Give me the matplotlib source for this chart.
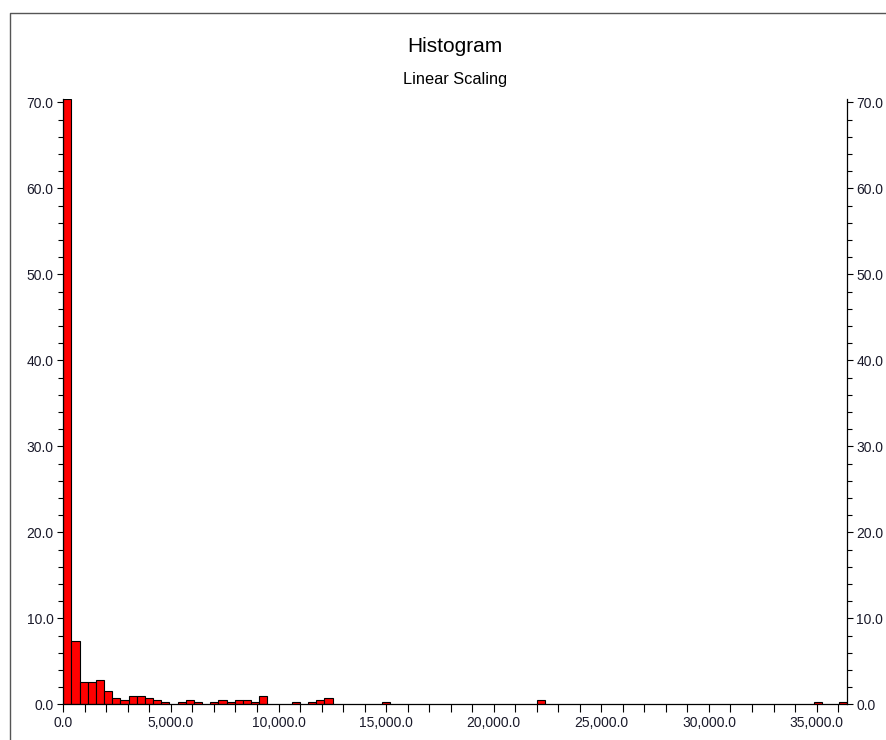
import matplotlib
matplotlib.use("Agg")
import matplotlib.pyplot as plt
from matplotlib.ticker import MultipleLocator, FuncFormatter
from matplotlib.lines import Line2D

# ---- data (percent of values per bin) ----
x_max = 36400.0
num_bins = 96
bin_index = [0, 1, 2, 3, 4, 5, 6, 7, 8, 9, 10, 11, 12, 14, 15, 16, 18, 19, 20,
             21, 22, 23, 24, 28, 30, 31, 32, 39, 58, 92, 95]
bin_percent = [70.4, 7.35, 2.6, 2.6, 2.85, 1.5, 0.75, 0.5, 1.0, 1.0, 0.75, 0.5,
               0.25, 0.25, 0.5, 0.25, 0.25, 0.5, 0.25, 0.5, 0.5, 0.25, 1.0,
               0.25, 0.25, 0.5, 0.75, 0.25, 0.5, 0.25, 0.25]
title = "Histogram"
subtitle = "Linear Scaling"

plt.rcParams['font.family'] = ['Liberation Sans', 'DejaVu Sans']

W, H = 887, 740
fig = plt.figure(figsize=(W / 100, H / 100), dpi=100)
fig.patch.set_facecolor('white')

left, right = 63.3 / W, 846.7 / W
bottom, top = (H - 704.3) / H, (H - 99.0) / H
ax = fig.add_axes([left, bottom, right - left, top - bottom])

bin_width = x_max / num_bins
lefts = [i * bin_width for i in bin_index]
ax.bar(lefts, bin_percent, width=bin_width, align='edge',
       color='#ff0000', edgecolor='black', linewidth=0.8, zorder=2)

ax.set_xlim(0, x_max)
ax.set_ylim(0, max(bin_percent))

ax.xaxis.set_major_locator(MultipleLocator(5000))
ax.xaxis.set_minor_locator(MultipleLocator(1000))
ax.yaxis.set_major_locator(MultipleLocator(10))
ax.yaxis.set_minor_locator(MultipleLocator(2))
ax.xaxis.set_major_formatter(FuncFormatter(lambda v, p: f"{v:,.1f}"))
ax.yaxis.set_major_formatter(FuncFormatter(lambda v, p: f"{v:,.1f}"))

ax.spines['top'].set_visible(False)
for s in ('left', 'right', 'bottom'):
    ax.spines[s].set_linewidth(0.9)
    ax.spines[s].set_color('black')

ax.tick_params(axis='x', which='major', direction='out', length=6, width=0.8,
               labelsize=10, pad=2.5, colors='black', labelcolor='#1a1a2a')
ax.tick_params(axis='x', which='minor', direction='out', length=6, width=0.8)
ax.tick_params(axis='y', which='major', direction='out', length=4.5, width=0.8,
               labelsize=10, pad=2.5, left=True, right=True,
               labelleft=True, labelright=True, labelcolor='#1a1a2a')
ax.tick_params(axis='y', which='minor', direction='out', length=3.5, width=0.8,
               left=True, right=True)

fig.text((left + right) / 2, (H - 51.5) / H, title, ha='center', va='baseline',
         fontsize=15, color='black')
fig.text((left + right) / 2, (H - 84.0) / H, subtitle, ha='center', va='baseline',
         fontsize=11.8, color='black')

# window frame (partially visible)
fx, fy = 10.5 / W, 1 - 13.0 / H
fig.add_artist(Line2D([fx, fx, 1.05], [-0.05, fy, fy], transform=fig.transFigure,
                      color='#555555', linewidth=1.0))

fig.savefig('out.png', dpi=100, facecolor='white')
